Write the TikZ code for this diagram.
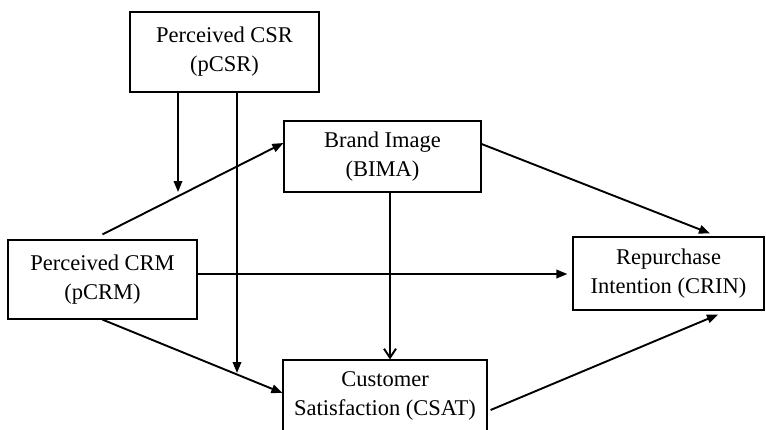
\documentclass[tikz,border=0pt]{standalone}
\usepackage{fontspec}
\setmainfont{Liberation Serif}
\usetikzlibrary{arrows.meta}
\begin{document}
\begin{tikzpicture}[x=1pt,y=-1pt,
  box/.style={draw,line width=1.2pt,align=center,inner sep=0pt,font=\fontsize{22.5}{29}\selectfont},
  conn/.style={line width=1.9pt,-{Triangle[length=11pt,width=8.5pt]}},
  openconn/.style={line width=1.9pt,-{Straight Barb[length=9pt,width=12pt,line width=1.9pt]}}]
\useasboundingbox (0,0) rectangle (766,429);
\begin{scope}
\clip (0,0) rectangle (766,429);
\node[box,line width=2.4pt,minimum width=189pt,minimum height=80pt] (pCSR) at (224.5,52) {Perceived CSR\\(pCSR)};
\node[box,minimum width=197pt,minimum height=71pt] (BIMA) at (382.5,156.5) {Brand Image\\(BIMA)};
\node[box,minimum width=189pt,minimum height=79pt] (pCRM) at (102.5,279.5) {Perceived CRM\\(pCRM)};
\node[box,minimum width=191pt,minimum height=73pt] (CRIN) at (668.5,273.5) {Repurchase\\Intention (CRIN)};
\node[box,minimum width=204pt,minimum height=72pt] (CSAT) at (385,396) {Customer\\Satisfaction (CSAT)};
\end{scope}
\coordinate (e1) at (178,192);
\coordinate (e2) at (237,373);
\coordinate (e3) at (390,360);
\draw[conn] (e1 |- pCSR.south) -- (e1);
\draw[conn] (e2 |- pCSR.south) -- (e2);
\draw[conn] ([yshift=5pt]pCRM.north) -- ([yshift=13.5pt]BIMA.west);
\draw[openconn] (e3 |- BIMA.south) -- (e3 |- CSAT.north);
\draw[conn] ([yshift=5.5pt]pCRM.east) -- ([xshift=-5pt,yshift=5.5pt]pCRM.east -| CRIN.west);
\draw[conn] ([yshift=12.5pt]BIMA.east) -- ([xshift=41.5pt,yshift=3pt]CRIN.north);
\draw[conn] (pCRM.south) -- ([yshift=3pt]CSAT.west);
\draw[conn] ([xshift=3pt,yshift=-14pt]CSAT.east) -- ([xshift=49.5pt,yshift=-4pt]CRIN.south);
\end{tikzpicture}
\end{document}
